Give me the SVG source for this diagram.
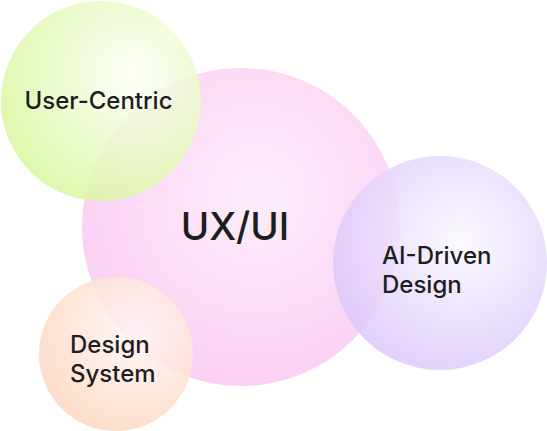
<svg xmlns="http://www.w3.org/2000/svg" width="547" height="431" viewBox="0 0 547 431">
<style>
.lbl{font-family:Inter,"Noto Sans","Liberation Sans",sans-serif;font-weight:550;fill:#1e1e1e}
.sm{font-size:24px}
.big{font-size:38.5px}
</style>
<defs>
<radialGradient id="gPink" cx="0.55" cy="0.4" r="0.6">
<stop offset="0" stop-color="#fdeefb"/>
<stop offset="1" stop-color="#fbd0f3"/>
</radialGradient>
<radialGradient id="gGreen" cx="0.66" cy="0.36" r="0.7">
<stop offset="0" stop-color="#fdfff8"/>
<stop offset="1" stop-color="#d9f7a0"/>
</radialGradient>
<radialGradient id="gPurple" cx="0.6" cy="0.4" r="0.7">
<stop offset="0" stop-color="#fcf9ff"/>
<stop offset="1" stop-color="#d8c3fa"/>
</radialGradient>
<radialGradient id="gPeach" cx="0.64" cy="0.35" r="0.7">
<stop offset="0" stop-color="#fff7f8"/>
<stop offset="1" stop-color="#fcd7bf"/>
</radialGradient>
</defs>
<g id="connectors"></g>
<g id="node-uxui">
<circle cx="241" cy="227" r="159" fill="url(#gPink)"/>
<text class="lbl big" x="235" y="240" text-anchor="middle">UX/UI</text>
</g>
<g id="node-user-centric">
<circle cx="101" cy="101" r="100" fill="url(#gGreen)" opacity="0.85"/>
<text class="lbl sm" x="98.5" y="109" text-anchor="middle">User-Centric</text>
</g>
<g id="node-ai-driven">
<circle cx="440" cy="263" r="107" fill="url(#gPurple)" opacity="0.85"/>
<text class="lbl sm" x="382" y="264">AI-Driven</text>
<text class="lbl sm" x="382" y="293">Design</text>
</g>
<g id="node-design-system">
<circle cx="116" cy="354" r="77" fill="url(#gPeach)" opacity="0.85"/>
<text class="lbl sm" x="70" y="353">Design</text>
<text class="lbl sm" x="70" y="382">System</text>
</g>
</svg>
